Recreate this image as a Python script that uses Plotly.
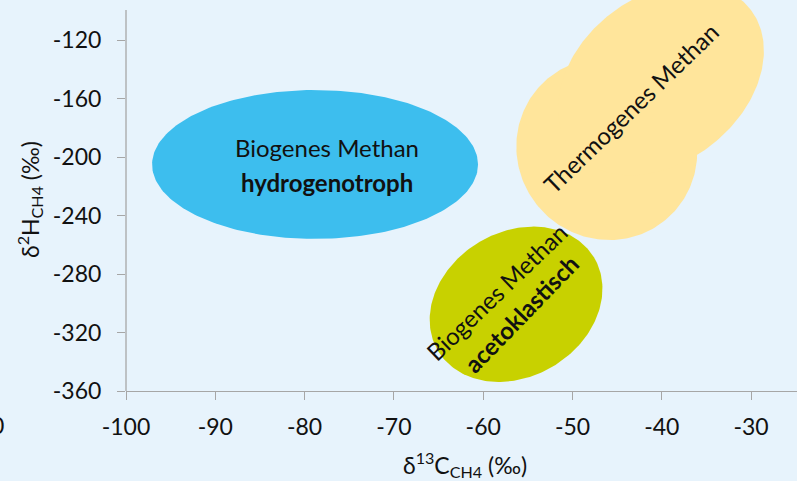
import numpy as np
import plotly.graph_objects as go

# ---- axis ticks ----
x_ticks = [-100, -90, -80, -70, -60, -50, -40, -30]
y_ticks = [-360, -320, -280, -240, -200, -160, -120]

# ---- regions (ellipses), in data units ----
# centre (δ13C, δ2H) and two semi-axis vectors (δ13C, δ2H)
region_names = ["hydrogenotroph", "acetoklastisch", "thermogen_a", "thermogen_b"]
region_cx = [-78.83, -56.32, -46.16, -40.10]
region_cy = [-205.1, -300.7, -194.6, -147.0]
region_ax_dx = [18.25, 8.72, 6.62, 10.01]
region_ax_dy = [0.0, 32.1, -48.2, 48.07]
region_bx_dx = [0.0, -4.19, 7.67, -5.73]
region_bx_dy = [50.9, 42.3, 39.3, 44.5]

# ---- region labels ----
label_texts = ["Biogenes Methan", "<b>hydrogenotroph</b>",
               "Biogenes Methan", "<b>acetoklastisch</b>",
               "Thermogenes Methan"]
label_x = [-77.49, -77.49, -58.45, -55.77, -43.56]
label_y = [-193.8, -217.1, -292.3, -306.7, -166.5]
label_angle = [0, 0, -44, -46, -44]

# ---- styles ----
region_colors = ["#3DBEEE", "#C8D100", "#FFE59B", "#FFE59B"]
BG = "#E7F3FC"
AXIS = "#A6A6A6"
FONT = "Lato"
TXT = "#111111"

fig = go.Figure()
t = np.linspace(0, 2 * np.pi, 241)
for i, name in enumerate(region_names):
    xs = region_cx[i] + region_ax_dx[i] * np.cos(t) + region_bx_dx[i] * np.sin(t)
    ys = region_cy[i] + region_ax_dy[i] * np.cos(t) + region_bx_dy[i] * np.sin(t)
    fig.add_trace(go.Scatter(x=xs, y=ys, mode="lines", fill="toself",
                             fillcolor=region_colors[i], line=dict(width=0, color=region_colors[i]),
                             hoverinfo="skip", showlegend=False, name=name))

for txt, x, y, a in zip(label_texts, label_x, label_y, label_angle):
    fig.add_annotation(x=x, y=y, xref="x", yref="y", text=txt, textangle=a,
                       xanchor="center", yanchor="middle",
                       showarrow=False, font=dict(family=FONT, size=24, color=TXT))

# axis titles
fig.add_annotation(xref="paper", yref="paper", x=(465 - 126) / 671, y=(391 - 464) / 391,
                   xanchor="center", yanchor="middle",
                   text="δ<sup>13</sup>C<sub>CH4</sub> (‰)", showarrow=False,
                   font=dict(family=FONT, size=23, color=TXT))
fig.add_annotation(xref="paper", yref="paper", x=(30 - 126) / 671, y=(391 - 200) / 391,
                   xanchor="center", yanchor="middle",
                   text="δ<sup>2</sup>H<sub>CH4</sub> (‰)", showarrow=False, textangle=-90,
                   font=dict(family=FONT, size=23, color=TXT))
# cut-off label at the far left
fig.add_annotation(xref="paper", yref="paper", x=(6 - 126) / 671, y=(391 - 425) / 391,
                   text="0", showarrow=False, xanchor="right", yanchor="middle",
                   font=dict(family=FONT, size=23, color=TXT))

# y axis line (stops at -100)
fig.add_shape(type="line", xref="paper", yref="paper", x0=0, x1=0,
              y0=0, y1=(391 - 10) / 391, line=dict(color=AXIS, width=1.3))

fig.update_layout(
    width=797, height=481,
    margin=dict(l=126, r=0, t=0, b=90),
    paper_bgcolor=BG, plot_bgcolor=BG,
    font=dict(family=FONT, color=TXT),
    xaxis=dict(range=[-100, -100 + 671 / 8.93], tickvals=x_ticks, ticktext=[str(v) for v in x_ticks],
               ticks="outside", ticklen=8, tickcolor=AXIS, tickwidth=1.3,
               showline=True, linecolor=AXIS, linewidth=1.3,
               showgrid=False, zeroline=False, tickfont=dict(family=FONT, size=23, color=TXT),
               ticklabelstandoff=7),
    yaxis=dict(range=[-360, -360 + 391 / 1.4625], tickvals=y_ticks, ticktext=[str(v) for v in y_ticks],
               ticks="outside", ticklen=8, tickcolor=AXIS, tickwidth=1.3,
               showline=False, showgrid=False, zeroline=False,
               tickfont=dict(family=FONT, size=23, color=TXT), ticklabelstandoff=11),
)

fig.write_html("out.html", config={"displayModeBar": False},
               post_script="document.body.style.margin='0';document.body.style.background='%s';" % BG)
